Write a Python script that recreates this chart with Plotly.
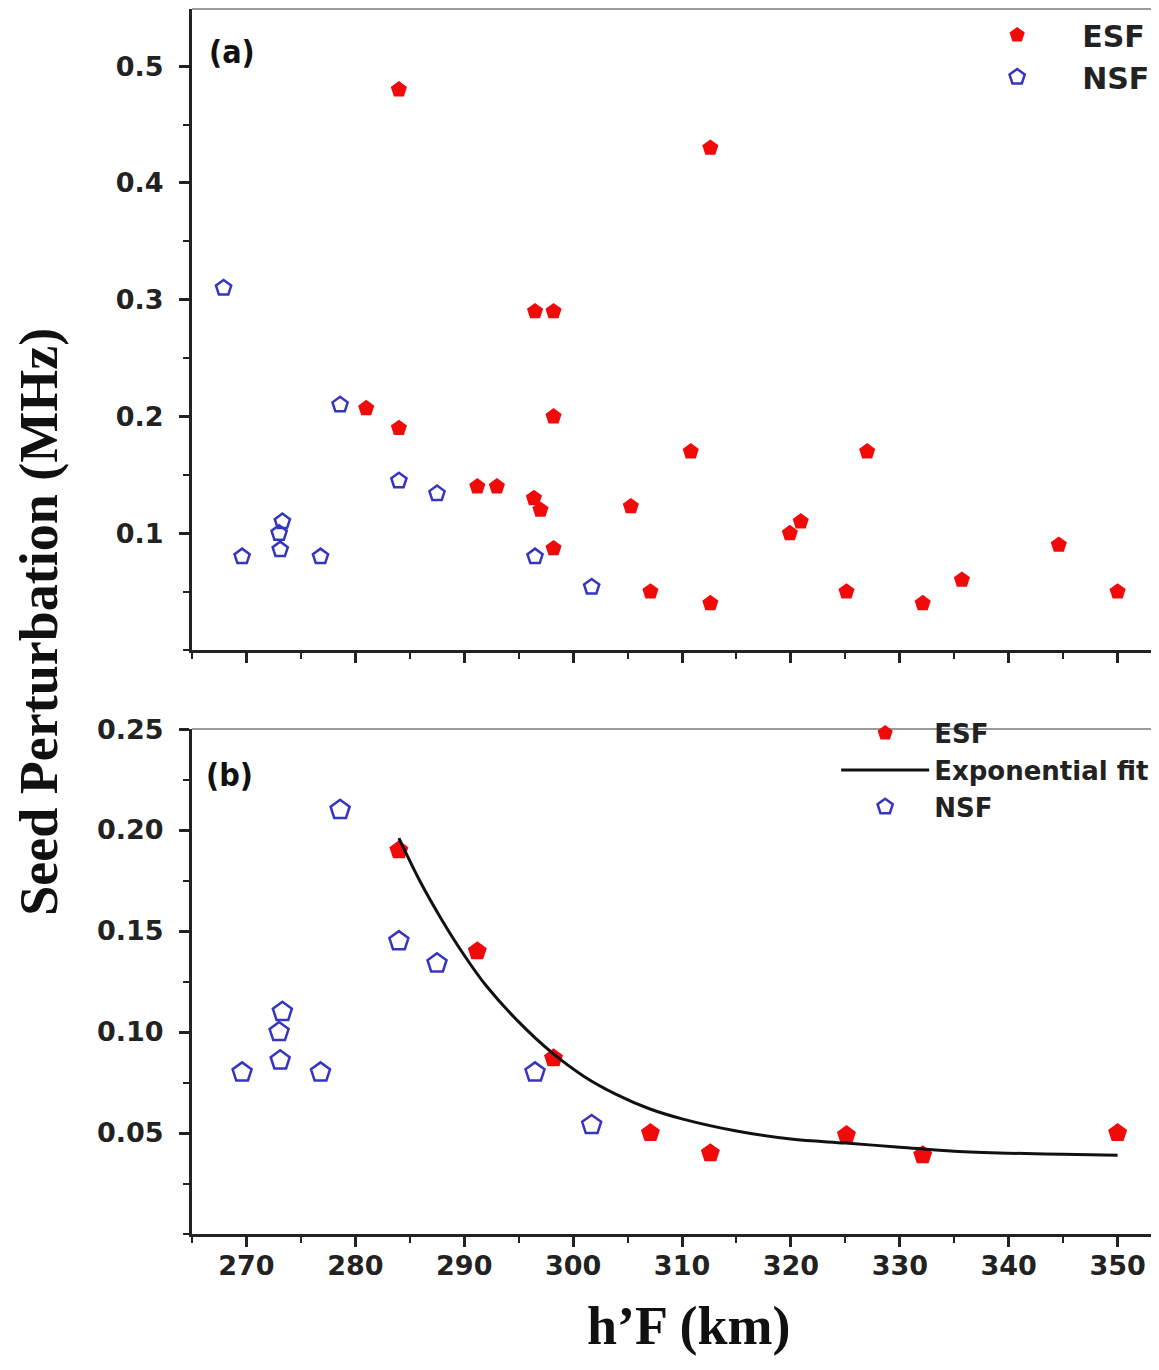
import plotly.graph_objects as go

# ---- data ----
esf_a_x = [284, 312.6, 296.5, 298.2, 281, 284, 298.2, 310.8, 327, 291.2, 293, 296.4, 297,
           305.3, 298.2, 319.9, 320.9, 307.1, 312.6, 325.1, 332.1, 335.7, 344.6, 350]
esf_a_y = [0.48, 0.43, 0.29, 0.29, 0.207, 0.19, 0.20, 0.17, 0.17, 0.14, 0.14, 0.13, 0.12,
           0.123, 0.087, 0.10, 0.11, 0.05, 0.04, 0.05, 0.04, 0.06, 0.09, 0.05]

nsf_a_x = [267.9, 278.6, 284, 287.5, 273.3, 273, 273.1, 269.6, 276.8, 296.5, 301.7]
nsf_a_y = [0.31, 0.21, 0.145, 0.134, 0.11, 0.10, 0.086, 0.08, 0.08, 0.08, 0.054]

esf_b_x = [284, 291.2, 298.2, 307.1, 312.6, 325.1, 332.1, 350]
esf_b_y = [0.19, 0.14, 0.087, 0.05, 0.04, 0.049, 0.039, 0.05]

nsf_b_x = [278.6, 284, 287.5, 273.3, 273, 273.1, 269.6, 276.8, 296.5, 301.7]
nsf_b_y = [0.21, 0.145, 0.134, 0.11, 0.10, 0.086, 0.08, 0.08, 0.08, 0.054]

fit_x = [284, 286, 288, 290, 292, 295, 298, 301, 304, 307, 310, 315, 320, 325, 330, 335, 340, 345, 350]
fit_y = [0.196, 0.174, 0.155, 0.138, 0.123, 0.105, 0.090, 0.078, 0.069, 0.062, 0.057, 0.051,
         0.047, 0.045, 0.043, 0.041, 0.040, 0.0395, 0.039]

x_ticks = [270, 280, 290, 300, 310, 320, 330, 340, 350]
ya_ticks = [0.1, 0.2, 0.3, 0.4, 0.5]
ya_text = ["0.1", "0.2", "0.3", "0.4", "0.5"]
yb_ticks = [0.05, 0.10, 0.15, 0.20, 0.25]
yb_text = ["0.05", "0.10", "0.15", "0.20", "0.25"]

RED = "#f00a0a"
BLUE = "#3535c0"
AX = "#222222"
TICKFONT = dict(family="DejaVu Sans", size=27, color="#222", weight="bold")

fig = go.Figure()

fig.add_trace(go.Scatter(x=esf_a_x, y=esf_a_y, mode="markers", name="ESF",
                         marker=dict(symbol="pentagon", size=17, color=RED),
                         xaxis="x", yaxis="y", legend="legend"))
fig.add_trace(go.Scatter(x=nsf_a_x, y=nsf_a_y, mode="markers", name="NSF",
                         marker=dict(symbol="pentagon-open", size=16, color=BLUE,
                                     line=dict(width=2.5, color=BLUE)),
                         xaxis="x", yaxis="y", legend="legend"))

fig.add_trace(go.Scatter(x=esf_b_x, y=esf_b_y, mode="markers", name="ESF",
                         marker=dict(symbol="pentagon", size=20, color=RED),
                         xaxis="x2", yaxis="y2", legend="legend2"))
fig.add_trace(go.Scatter(x=fit_x, y=fit_y, mode="lines", name="Exponential fit",
                         line=dict(color="#111", width=3, shape="spline", smoothing=1.0),
                         xaxis="x2", yaxis="y2", legend="legend2"))
fig.add_trace(go.Scatter(x=nsf_b_x, y=nsf_b_y, mode="markers", name="NSF",
                         marker=dict(symbol="pentagon-open", size=20, color=BLUE,
                                     line=dict(width=2.5, color=BLUE)),
                         xaxis="x2", yaxis="y2", legend="legend2"))

xcommon = dict(range=[265, 353.8], showline=True, linecolor=AX, linewidth=3,
               ticks="outside", ticklen=10, tickwidth=2.5, tickcolor=AX,
               tickvals=x_ticks, showgrid=False, zeroline=False, automargin=False,
               minor=dict(tick0=265, dtick=5, ticks="outside", ticklen=6,
                          tickwidth=2, tickcolor=AX))

ycommon = dict(showline=True, linecolor=AX, linewidth=3,
               ticks="outside", ticklen=10, tickwidth=2.5, tickcolor=AX,
               tickfont=TICKFONT, showgrid=False, zeroline=False,
               ticklabelstandoff=10, automargin=False)

fig.update_layout(
    width=1151, height=1354,
    margin=dict(l=184, r=0, t=1, b=128, autoexpand=False),
    plot_bgcolor="white", paper_bgcolor="white",
    showlegend=True,
    xaxis=dict(**xcommon, domain=[0, 1], anchor="y", showticklabels=False),
    yaxis=dict(**ycommon, domain=[0.4767, 1.0], anchor="x", range=[0, 0.549],
               tickvals=ya_ticks, ticktext=ya_text,
               minor=dict(tick0=0, dtick=0.05, ticks="outside", ticklen=6,
                          tickwidth=2, tickcolor=AX)),
    xaxis2=dict(**xcommon, domain=[0, 1], anchor="y2", matches="x",
                tickfont=TICKFONT, ticklabelstandoff=-4),
    yaxis2=dict(**ycommon, domain=[0, 0.4122], anchor="x2", range=[0, 0.25],
                tickvals=yb_ticks, ticktext=yb_text,
                minor=dict(tick0=0, dtick=0.025, ticks="outside", ticklen=6,
                           tickwidth=2, tickcolor=AX)),
    legend=dict(x=0.996, xanchor="right", y=1.0, yanchor="top",
                bgcolor="rgba(0,0,0,0)", itemwidth=120,
                font=dict(family="DejaVu Sans", size=30, color="#222", weight="bold")),
    legend2=dict(x=0.995, xanchor="right", y=0.428, yanchor="top",
                 bgcolor="rgba(0,0,0,0)", itemwidth=88,
                 font=dict(family="DejaVu Sans", size=26, color="#222", weight="bold")),
)

# top frame lines (light grey)
for yref, xref in [("y domain", "x domain"), ("y2 domain", "x2 domain")]:
    fig.add_shape(type="line", xref=xref, yref=yref, x0=0, x1=1, y0=1, y1=1,
                  line=dict(color="#9a9a9a", width=2))

# panel labels
LABFONT = dict(family="DejaVu Sans Condensed, Liberation Sans Narrow, Arial Narrow",
               size=32, color="#111", weight="bold")
fig.add_annotation(text="(a)", xref="x domain", yref="y domain", x=0.041, y=0.933,
                   showarrow=False, xanchor="center", yanchor="middle", font=LABFONT)
fig.add_annotation(text="(b)", xref="x2 domain", yref="y2 domain", x=0.039, y=0.909,
                   showarrow=False, xanchor="center", yanchor="middle", font=LABFONT)

# axis titles
fig.add_annotation(text="Seed Perturbation (MHz)", xref="paper", yref="paper",
                   x=-0.159, y=0.50, textangle=-90, showarrow=False,
                   xanchor="center", yanchor="middle",
                   font=dict(family="Liberation Serif, Times New Roman, serif", size=54,
                             color="#111", weight="bold"))
fig.add_annotation(text="h’F (km)", xref="paper", yref="paper",
                   x=0.513, y=-0.0755, showarrow=False,
                   xanchor="center", yanchor="middle",
                   font=dict(family="Liberation Serif, Times New Roman, serif", size=54,
                             color="#111", weight="bold"))

fig.write_html("out.html")
